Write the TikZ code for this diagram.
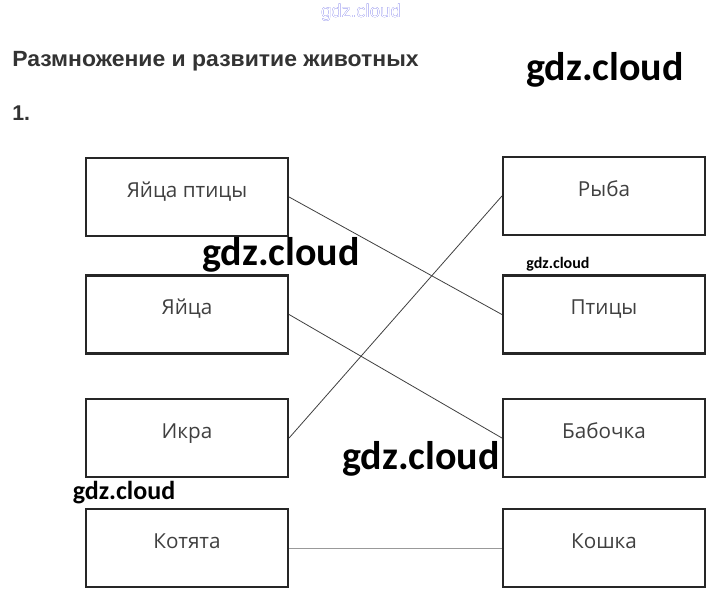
\documentclass[tikz,border=0pt]{standalone}
\usepackage{fontspec}
\usepackage[outline]{contour}
\setmainfont{Liberation Sans}
\newfontfamily\boxfont{Open Sans}
\newfontfamily\wmfont{Carlito}
\contourlength{0.5pt}
\begin{document}
\begin{tikzpicture}[x=0.75pt,y=-0.75pt,
  box/.style={draw=black!85, line width=1.6pt, minimum width=151.5pt, minimum height=58.5pt, inner sep=0pt},
  lbl/.style={font=\boxfont\fontsize{15.5}{18}\selectfont, text=black!75, anchor=base, inner sep=0pt},
  link/.style={draw=black!75, line width=0.6pt},
  wm/.style={font=\wmfont\bfseries\fontsize{30}{36}\selectfont, text=black, anchor=base, inner sep=0pt},
  head/.style={anchor=base west, inner sep=0pt, font=\bfseries\fontsize{16.5}{19}\selectfont, text=black!80},
]
\useasboundingbox (0,0) rectangle (723,603);
\fill[white] (0,0) rectangle (723,603);

% header
\node[anchor=base, inner sep=0pt, font=\fontsize{14}{16}\selectfont] (wmtop) at (361,17) {\contour{blue!85!black}{\textcolor{white}{gdz.cloud}}};
\node[head, xscale=1.044] (title) at (12,66) {Размножение и развитие животных};
\node[head, font=\bfseries\fontsize{16}{19}\selectfont] (num) at (12,120) {1.};

% boxes
\node[box] (l1) at (187,197) {};
\node[box] (l2) at (187,314.5) {};
\node[box] (l3) at (187,438) {};
\node[box] (l4) at (187,548) {};
\node[box] (r1) at (604,196) {};
\node[box] (r2) at (604,314.5) {};
\node[box] (r3) at (604,438) {};
\node[box] (r4) at (604,548) {};

\node[lbl] (t1) at (l1.center) {Яйца птицы};
\node[lbl] (t2) at (l2.center) {Яйца};
\node[lbl] (t3) at (l3.center) {Икра};
\node[lbl] (t4) at (l4.center) {Котята};
\node[lbl] (u1) at (r1.center) {Рыба};
\node[lbl] (u2) at (r2.center) {Птицы};
\node[lbl] (u3) at (r3.center) {Бабочка};
\node[lbl] (u4) at (r4.center) {Кошка};

% connectors
\draw[link] (l1.east) -- (r2.west);
\draw[link] (l2.east) -- (r3.west);
\draw[link] (l3.east) -- (r1.west);
\draw[link, draw=black!40] (l4.east) -- (r4.west);

% watermarks
\node[wm] (w1) at (605,80) {gdz.cloud};
\node[wm] (w2) at (281,265) {gdz.cloud};
\node[wm, font=\wmfont\bfseries\fontsize{12}{14}\selectfont] (w3) at (558,268) {gdz.cloud};
\node[wm] (w4) at (421,469) {gdz.cloud};
\node[wm, font=\wmfont\bfseries\fontsize{19.5}{22}\selectfont] (w5) at (124,499) {gdz.cloud};
\end{tikzpicture}
\end{document}
